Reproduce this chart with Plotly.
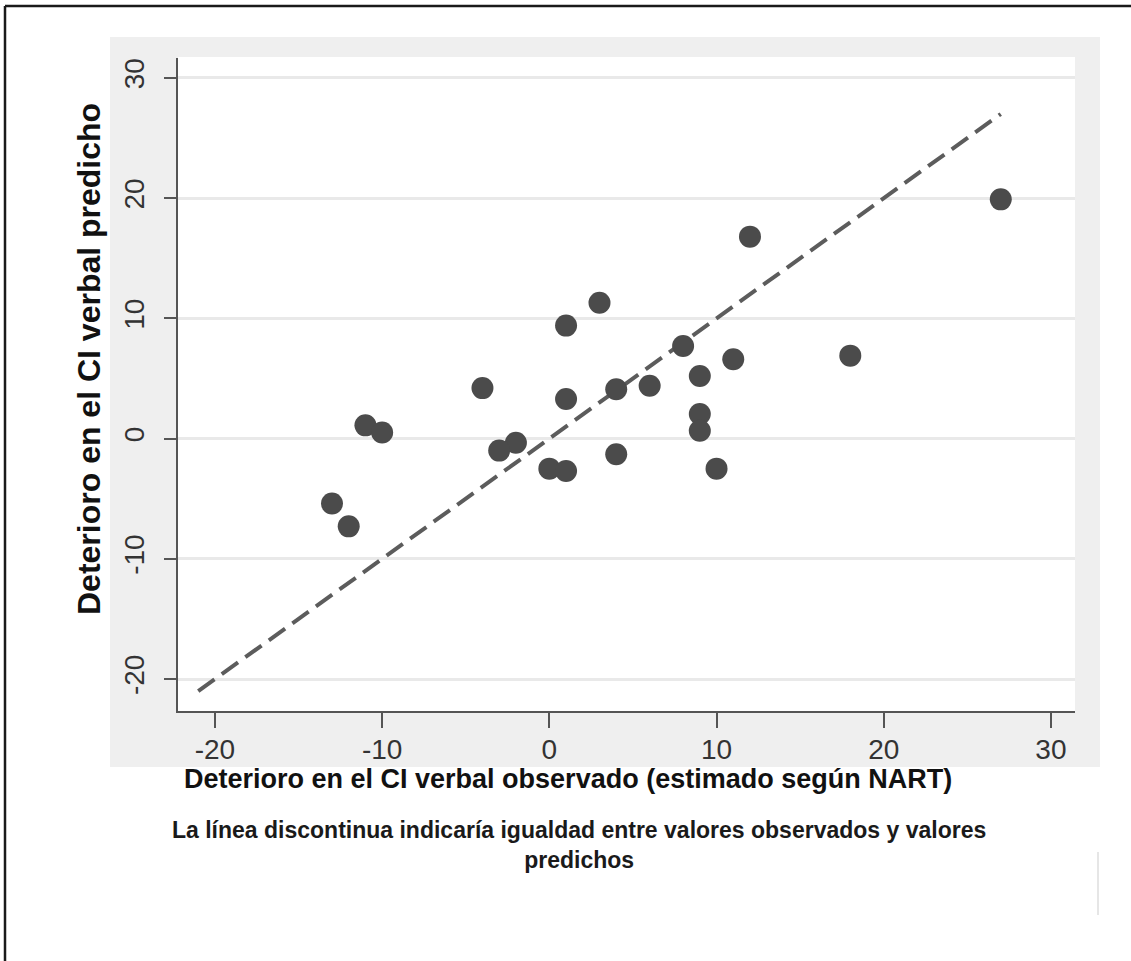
import plotly.graph_objects as go

# ---- data ----
observado = [27, 12, 3, 1, 8, 11, 18, 9, -4, 6, 4, 1, 9, 9, -11, -10, -2, -3, 4, 0, 1, 10, -13, -12]
predicho = [19.9, 16.8, 11.3, 9.4, 7.7, 6.6, 6.9, 5.2, 4.2, 4.4, 4.1, 3.3, 2.05, 0.65, 1.1, 0.5,
            -0.35, -1.0, -1.3, -2.5, -2.7, -2.5, -5.4, -7.3]
linea_x = [-21, 27]
linea_y = [-21, 27]
tick_vals = [-20, -10, 0, 10, 20, 30]
tick_text = ["-20", "-10", "0", "10", "20", "30"]

x_title = "Deterioro en el CI verbal observado (estimado según NART)"
y_title = "Deterioro en el CI verbal predicho"
caption = "La línea discontinua indicaría igualdad entre valores observados y valores<br>predichos"

W, H = 1131, 961
L, R, T, B = 178, 1075, 58, 711  # plot area in pixels


def px(xp):
    return (xp - L) / (R - L)


def py(yp):
    return (B - yp) / (B - T)


fig = go.Figure()
fig.add_trace(go.Scatter(
    x=linea_x, y=linea_y, mode="lines",
    line=dict(color="#5c5c5c", width=4, dash="20px,9px"),
    hoverinfo="skip", showlegend=False))
fig.add_trace(go.Scatter(
    x=observado, y=predicho, mode="markers",
    marker=dict(size=22, color="#4b4b4b", line=dict(width=0)),
    showlegend=False))

shapes = [
    # graph region (light gray)
    dict(type="rect", xref="paper", yref="paper", x0=px(110), x1=px(1100), y0=py(767), y1=py(37),
         fillcolor="#efefef", line=dict(width=0), layer="below"),
    # plot region (white)
    dict(type="rect", xref="paper", yref="paper", x0=0, x1=1, y0=0, y1=py(57),
         fillcolor="#ffffff", line=dict(width=0), layer="below"),
    # outer frame (left and top)
    dict(type="line", xref="paper", yref="paper", x0=px(5), x1=px(5), y0=py(961), y1=py(6),
         line=dict(color="#1a1a1a", width=2.5)),
    dict(type="line", xref="paper", yref="paper", x0=px(5), x1=px(1131), y0=py(6), y1=py(6),
         line=dict(color="#1a1a1a", width=2.5)),
    # faint vertical artifact
    dict(type="line", xref="paper", yref="paper", x0=px(1098), x1=px(1098), y0=py(915), y1=py(852),
         line=dict(color="#e6e6e6", width=2)),
]

font_ticks = dict(family="Liberation Sans, Arial, sans-serif", size=28, color="#333333")

annotations = [
    dict(text="<b>%s</b>" % x_title, xref="paper", yref="paper", x=px(568), y=py(779),
         xanchor="center", yanchor="middle", showarrow=False,
         font=dict(family="Liberation Sans, Arial, sans-serif", size=27, color="#111111")),
    dict(text="<b>%s</b>" % y_title, xref="paper", yref="paper", x=px(89), y=py(359),
         xanchor="center", yanchor="middle", showarrow=False, textangle=-90,
         font=dict(family="Liberation Sans, Arial, sans-serif", size=32, color="#111111")),
    dict(text="<b>%s</b>" % caption.replace("<br>", "</b><br><b>"), xref="paper", yref="paper",
         x=px(579), y=py(845), xanchor="center", yanchor="middle", showarrow=False,
         align="center",
         font=dict(family="Liberation Sans, Arial, sans-serif", size=23, color="#1a1a1a")),
]

fig.update_layout(
    width=W, height=H,
    margin=dict(l=L, r=W - R, t=T, b=H - B, pad=0),
    paper_bgcolor="#ffffff", plot_bgcolor="rgba(0,0,0,0)",
    shapes=shapes, annotations=annotations,
    xaxis=dict(range=[-22.21, 31.44], tickvals=tick_vals, ticktext=tick_text, ticks="outside",
               ticklen=15, tickwidth=1.5, tickcolor="#555555", showline=True, linecolor="#555555",
               linewidth=1.5, showgrid=False, zeroline=False, tickfont=font_ticks,
               ticklabelstandoff=-2),
    yaxis=dict(range=[-22.66, 31.66], tickvals=tick_vals, ticktext=tick_text, ticks="outside",
               ticklen=12, tickwidth=1.5, tickcolor="#555555", showline=True, linecolor="#555555",
               linewidth=1.5, showgrid=True, gridcolor="#e9e9e9", gridwidth=3,
               zeroline=False, tickangle=-90, tickfont=font_ticks, ticklabelstandoff=9),
)

fig.write_html("out.html")
